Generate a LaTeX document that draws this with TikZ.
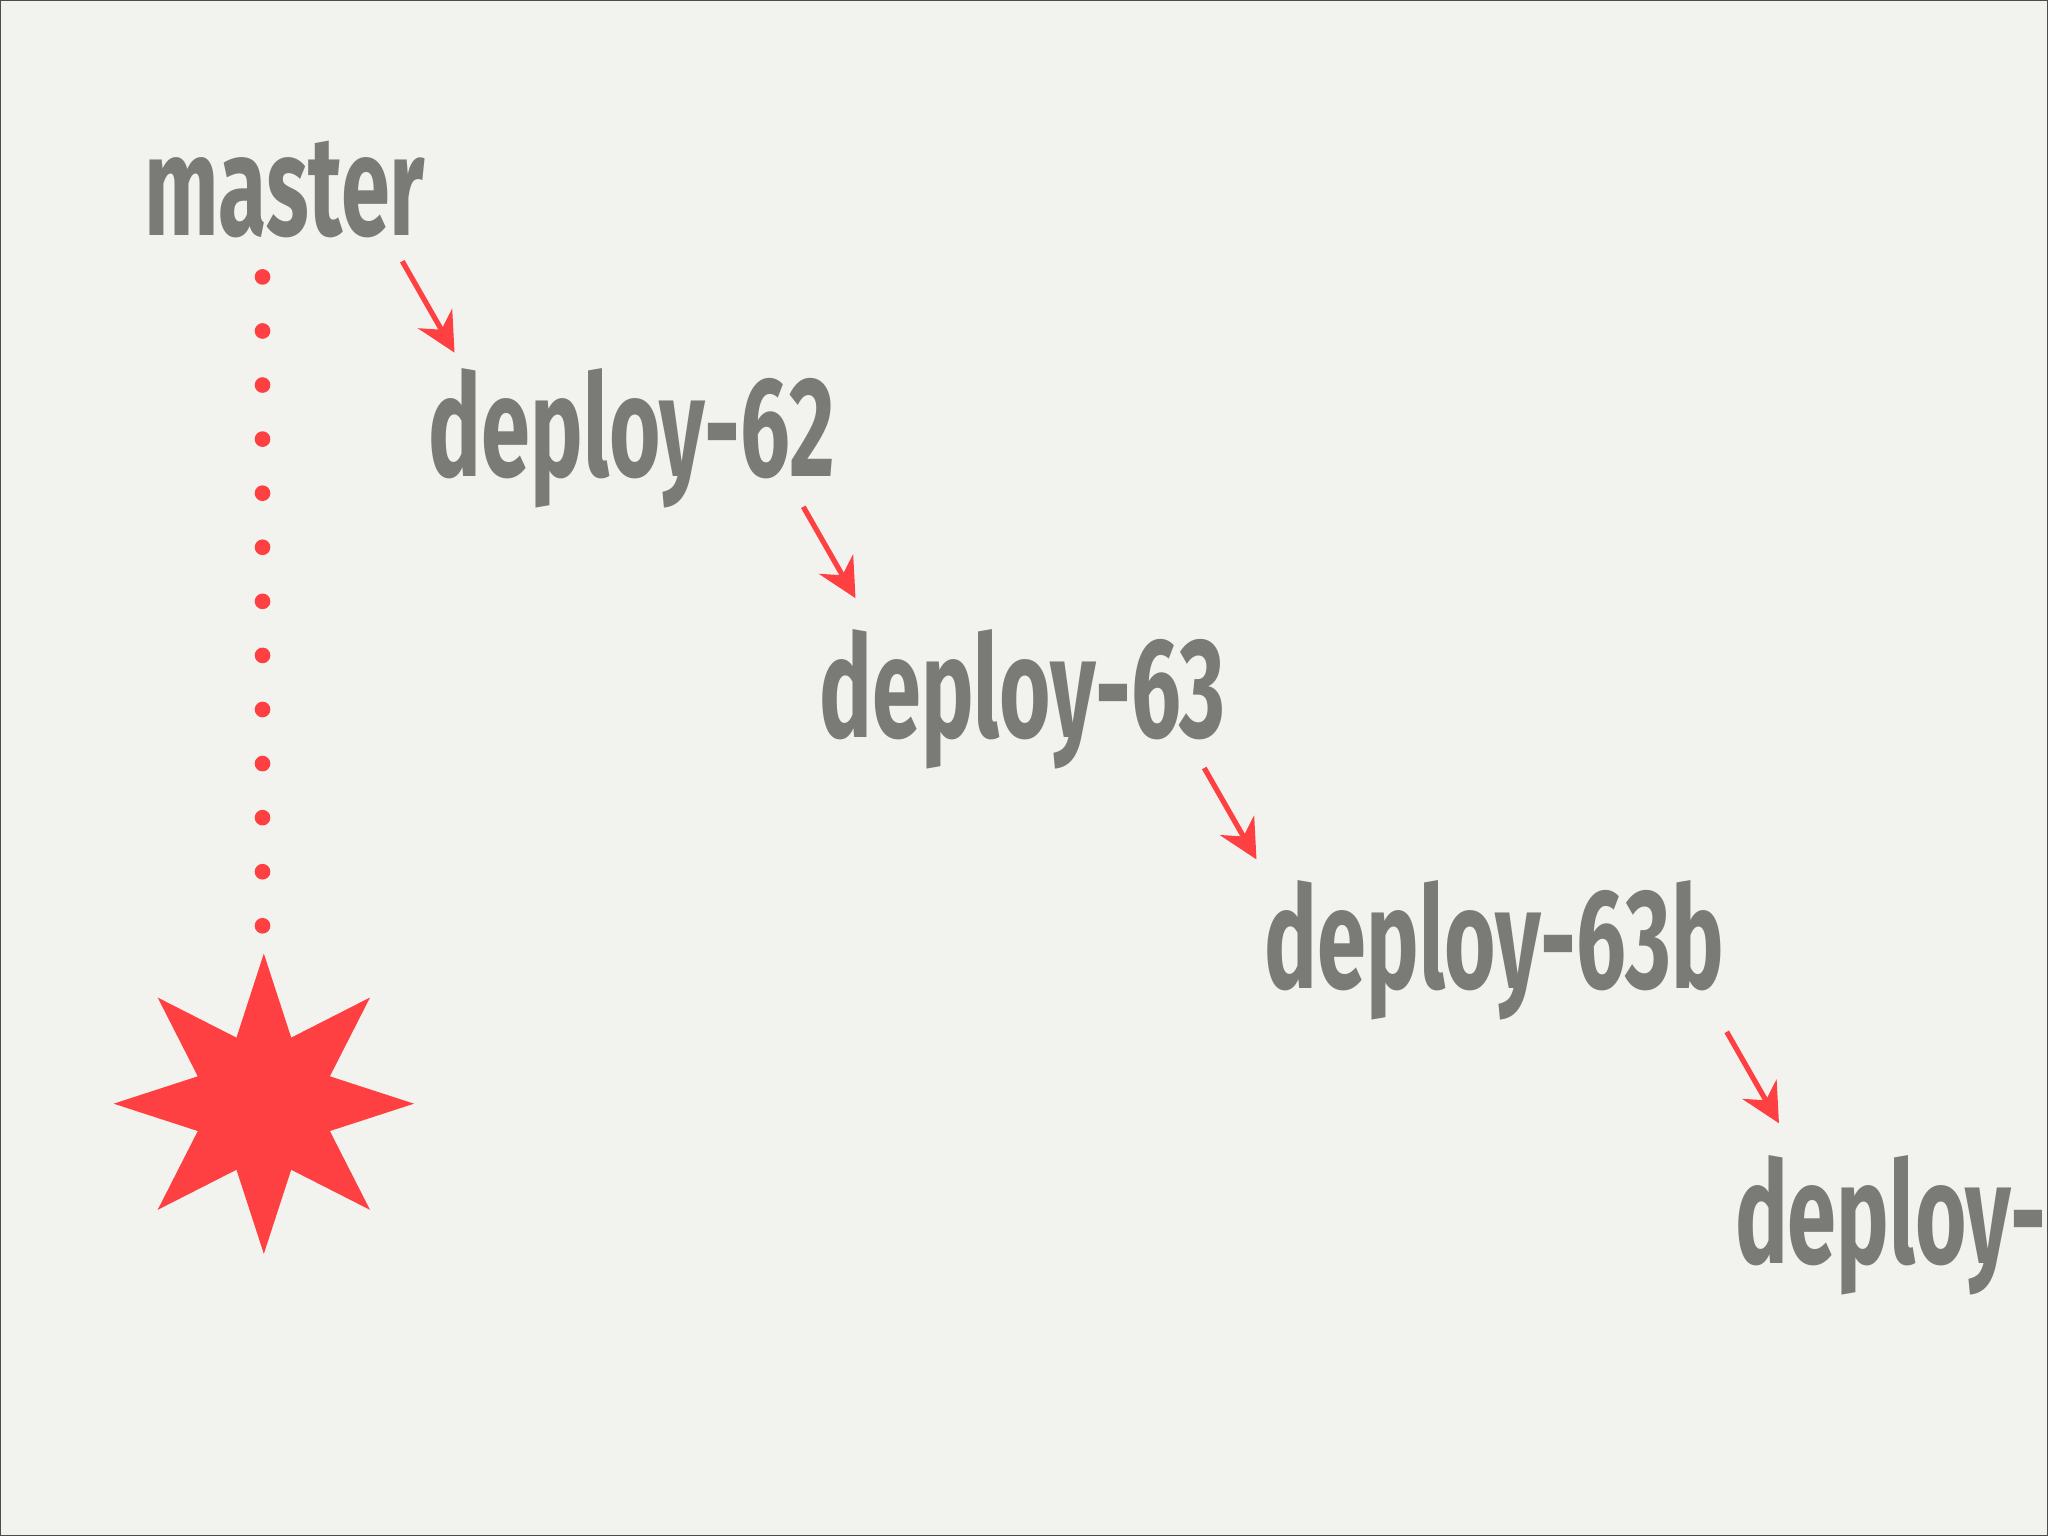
\documentclass[tikz,border=0pt]{standalone}
\usepackage{fontspec}
\setmainfont{Fira Sans}[FakeStretch=0.62]
\usetikzlibrary{shapes.geometric,arrows.meta}
\definecolor{bg}{HTML}{F2F3EE}
\definecolor{txt}{HTML}{7A7A77}
\definecolor{rd}{HTML}{FF4043}
\tikzset{lbl/.style={anchor=base west,inner sep=0pt,text=txt,font=\fontsize{62pt}{62pt}\selectfont\bfseries},
 arr/.style={rd,line width=0.08cm,-{Stealth[length=0.6cm,width=0.6cm]}}}
\begin{document}
\begin{tikzpicture}[x=0.02cm,y=-0.02cm]
\useasboundingbox (0,0) rectangle (1568,1176);
\clip (0,0) rectangle (1568,1176);
\fill[bg,draw=black!70,line width=0.04cm] (0,0) rectangle (1568,1176);
\node[lbl] (m) at (110,180) {master};
\node[lbl] (d62) at (328,365) {deploy-62};
\node[lbl] (d63) at (627,565) {deploy-63};
\node[lbl] (d63b) at (968,757) {deploy-63b};
\node[lbl] (d64) at (1328,967) {deploy-};
\foreach \i/\a/\b in {1/308/200,2/615/388,3/922/588,4/1322/790}{
 \coordinate (s\i) at (\a,\b); \coordinate (e\i) at (\a+40,\b+70);
 \draw[arr] (s\i) -- (e\i);}
\foreach \k in {0,...,12}{\fill[rd] (201,212+41.4*\k) circle (6);}
\node[star,star points=8,star point ratio=2.1,minimum size=4.6cm,fill=rd,inner sep=0pt] (boom) at (202,845) {};
\end{tikzpicture}
\end{document}
